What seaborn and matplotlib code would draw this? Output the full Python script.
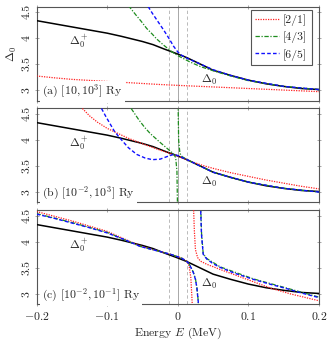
import matplotlib
matplotlib.use("Agg")
import matplotlib.pyplot as plt
import seaborn as sns

# exact curve (same in every panel)
E_EXACT = [-0.2, -0.175, -0.15, -0.125, -0.1, -0.08, -0.068, -0.05, -0.035, -0.02, -0.01, 0.0,
           0.013, 0.03, 0.05, 0.075, 0.1, 0.125, 0.15, 0.175, 0.2]
D_EXACT = [4.33, 4.27, 4.21, 4.15, 4.09, 4.03, 3.99, 3.93, 3.87, 3.79, 3.74, 3.69,
           3.62, 3.51, 3.38, 3.28, 3.19, 3.12, 3.07, 3.03, 3.01]

# panel (a): [10, 10^3] Ry
E_A21 = [-0.2, -0.175, -0.15, -0.1, -0.067, -0.03, 0.0, 0.05, 0.1, 0.15, 0.2]
D_A21 = [3.27, 3.235, 3.205, 3.165, 3.14, 3.11, 3.09, 3.06, 3.03, 3.0, 2.97]
E_A43 = [-0.07, -0.06, -0.052, -0.044, -0.036, -0.03, -0.02, -0.008, 0.0, 0.017, 0.032, 0.05,
         0.075, 0.1, 0.15, 0.2]
D_A43 = [4.62, 4.45, 4.32, 4.18, 4.07, 3.98, 3.86, 3.73, 3.66, 3.54, 3.45, 3.37,
         3.27, 3.18, 3.07, 3.01]
E_A65 = [-0.042, -0.036, -0.03, -0.025, -0.02, -0.012, -0.006, 0.0, 0.005, 0.013, 0.03, 0.05,
         0.075, 0.1, 0.15, 0.2]
D_A65 = [4.6, 4.47, 4.35, 4.25, 4.15, 3.98, 3.84, 3.73, 3.67, 3.61, 3.51, 3.39,
         3.28, 3.19, 3.07, 3.01]

# panel (b): [10^-2, 10^3] Ry
E_B21 = [-0.135, -0.125, -0.114, -0.1, -0.086, -0.07, -0.053, -0.035, -0.02, 0.0, 0.018, 0.035,
         0.051, 0.075, 0.1, 0.125, 0.15, 0.175, 0.2]
D_B21 = [4.6, 4.46, 4.34, 4.22, 4.13, 4.03, 3.94, 3.85, 3.78, 3.69, 3.59, 3.51,
         3.45, 3.37, 3.30, 3.23, 3.17, 3.11, 3.06]
E_B43_L = [-0.066, -0.055, -0.047, -0.039, -0.025, -0.012, -0.006, -0.003, -0.0012, -0.0004]
D_B43_L = [4.6, 4.38, 4.24, 4.12, 3.95, 3.80, 3.73, 3.66, 3.4, 2.7]
E_B43_R = [0.0004, 0.0012, 0.003, 0.006, 0.013, 0.03, 0.05, 0.075, 0.1, 0.15, 0.2]
D_B43_R = [4.7, 4.0, 3.74, 3.68, 3.62, 3.51, 3.38, 3.28, 3.19, 3.07, 3.0]
E_B65 = [-0.108, -0.102, -0.096, -0.09, -0.083, -0.07, -0.058, -0.046, -0.036, -0.025, -0.015,
         -0.006, 0.0, 0.013, 0.03, 0.05, 0.075, 0.1, 0.15, 0.2]
D_B65 = [4.6, 4.45, 4.31, 4.17, 4.05, 3.85, 3.72, 3.65, 3.62, 3.63, 3.68,
         3.72, 3.70, 3.62, 3.51, 3.38, 3.28, 3.19, 3.07, 3.0]

# panel (c): [10^-2, 10^-1] Ry
E_C21_L = [-0.2, -0.175, -0.15, -0.125, -0.1, -0.075, -0.053, -0.03, -0.01, 0.005, 0.012,
           0.016, 0.0185, 0.0205, 0.0215]
D_C21_L = [4.58, 4.49, 4.40, 4.30, 4.20, 4.05, 3.92, 3.83, 3.76, 3.69, 3.64,
           3.54, 3.31, 2.8, 2.5]
E_C21_R = [0.0222, 0.0235, 0.025, 0.028, 0.032, 0.041, 0.06, 0.084, 0.11, 0.132, 0.16, 0.2]
D_C21_R = [4.7, 4.2, 3.85, 3.70, 3.63, 3.57, 3.47, 3.35, 3.22, 3.11, 3.0, 2.87]
E_C43_L = [-0.2, -0.15, -0.1, -0.053, -0.01, 0.005, 0.012, 0.016, 0.022, 0.025, 0.027, 0.029, 0.030]
D_C43_L = [4.54, 4.37, 4.18, 3.91, 3.76, 3.69, 3.63, 3.58, 3.42, 3.29, 3.13, 2.86, 2.6]
E_C43_R = [0.0324, 0.0337, 0.036, 0.041, 0.06, 0.107, 0.155, 0.2]
D_C43_R = [4.7, 4.15, 3.77, 3.68, 3.52, 3.29, 3.11, 2.94]
E_C65_L = [-0.2, -0.175, -0.15, -0.125, -0.1, -0.075, -0.053, -0.03, -0.01, 0.005, 0.012,
           0.016, 0.022, 0.025, 0.027, 0.029, 0.030]
D_C65_L = [4.53, 4.45, 4.36, 4.27, 4.17, 4.04, 3.91, 3.83, 3.76, 3.69, 3.63,
           3.58, 3.41, 3.28, 3.12, 2.85, 2.6]
E_C65_R = [0.0322, 0.0335, 0.036, 0.041, 0.05, 0.06, 0.08, 0.107, 0.13, 0.155, 0.175, 0.2]
D_C65_R = [4.7, 4.15, 3.76, 3.67, 3.58, 3.51, 3.40, 3.28, 3.19, 3.10, 3.02, 2.93]

SERIES = ["[2/1]", "[4/3]", "[6/5]"]
PANEL_LABELS = [r"(a) $[10, 10^3]$ Ry", r"(b) $[10^{-2}, 10^3]$ Ry", r"(c) $[10^{-2}, 10^{-1}]$ Ry"]
X_TICKS = [-0.2, -0.1, 0.0, 0.1, 0.2]
X_TICKLABELS = [r"$-0.2$", r"$-0.1$", r"$0$", r"$0.1$", r"$0.2$"]
Y_TICKS = [3.0, 3.5, 4.0, 4.5]
Y_TICKLABELS = ["3", "3.5", "4", "4.5"]
POLE_HALF_WIDTH = 0.0125

panels = [
    {"[2/1]": [(E_A21, D_A21)], "[4/3]": [(E_A43, D_A43)], "[6/5]": [(E_A65, D_A65)]},
    {"[2/1]": [(E_B21, D_B21)], "[4/3]": [(E_B43_L, D_B43_L), (E_B43_R, D_B43_R)],
     "[6/5]": [(E_B65, D_B65)]},
    {"[2/1]": [(E_C21_L, D_C21_L), (E_C21_R, D_C21_R)],
     "[4/3]": [(E_C43_L, D_C43_L), (E_C43_R, D_C43_R)],
     "[6/5]": [(E_C65_L, D_C65_L), (E_C65_R, D_C65_R)]},
]

styles = {
    "[2/1]": dict(color="#ff2020", linestyle=(0, (1, 1)), lw=0.9),
    "[4/3]": dict(color="#1e8c1e", linestyle=(0, (3.5, 1.3, 1, 1.3)), lw=0.9),
    "[6/5]": dict(color="#1010ff", linestyle=(0, (2.6, 1.6)), lw=1.0),
}

sns.set_style("ticks")
plt.rcParams["font.family"] = "serif"
plt.rcParams["font.serif"] = ["cmr10", "DejaVu Serif"]
plt.rcParams["mathtext.fontset"] = "cm"
plt.rcParams["axes.unicode_minus"] = False
plt.rcParams["font.size"] = 8.5

fig, axes = plt.subplots(3, 1, figsize=(3.32, 3.44), dpi=100, sharex=True)
fig.subplots_adjust(left=0.11, right=0.961, top=0.981, bottom=0.115, hspace=0.085)

for i, ax in enumerate(axes):
    ax.axvline(0.0, color="#9a9a9a", lw=0.6, zorder=0.5)
    for s in (-POLE_HALF_WIDTH, POLE_HALF_WIDTH):
        ax.axvline(s, color="#b0b0b0", lw=0.6, linestyle=(0, (4, 3)), zorder=0.5)

    sns.lineplot(x=E_EXACT, y=D_EXACT, ax=ax, color="black", lw=1.1,
                 estimator=None, sort=False, zorder=3)
    for name in SERIES:
        for k, (e, d) in enumerate(panels[i][name]):
            lab = name if (i == 0 and k == 0) else None
            sns.lineplot(x=e, y=d, ax=ax, estimator=None, sort=False, label=lab,
                         zorder=4, **styles[name])

    ax.set_xlim(-0.2, 0.2)
    ax.set_ylim(2.8, 4.6)
    ax.set_xticks(X_TICKS)
    ax.set_yticks(Y_TICKS)
    ax.set_yticklabels(Y_TICKLABELS, rotation=90, va="center")
    ax.tick_params(direction="inout", length=3.5, width=0.6, color="#999999",
                   top=True, right=True, pad=2)
    for sp in ax.spines.values():
        sp.set_color("#555555")
        sp.set_linewidth(0.8)

    ax.text(0.02, 0.06, PANEL_LABELS[i], transform=ax.transAxes, ha="left", va="baseline",
            zorder=6, bbox=dict(facecolor="white", edgecolor="none", pad=1.5))
    ax.text(-0.14, 3.93, r"$\Delta_0^+$", ha="center", va="center", zorder=6)
    ax.text(0.045, 3.2, r"$\Delta_0$", ha="center", va="center", zorder=6)
    if i > 0 and ax.get_legend() is not None:
        ax.get_legend().remove()

axes[-1].set_xticklabels(X_TICKLABELS)
axes[-1].set_xlabel(r"Energy $E$ (MeV)", labelpad=3)
axes[0].set_ylabel(r"$\Delta_0$", labelpad=2)

leg = axes[0].legend(loc="upper right", bbox_to_anchor=(0.975, 0.963), borderaxespad=0,
                     fancybox=False, edgecolor="#555555", framealpha=1,
                     handlelength=2.0, handletextpad=0.35, labelspacing=0.45,
                     borderpad=0.4)
leg.get_frame().set_linewidth(0.8)
leg.set_zorder(10)

fig.savefig("out.png", dpi=100)
